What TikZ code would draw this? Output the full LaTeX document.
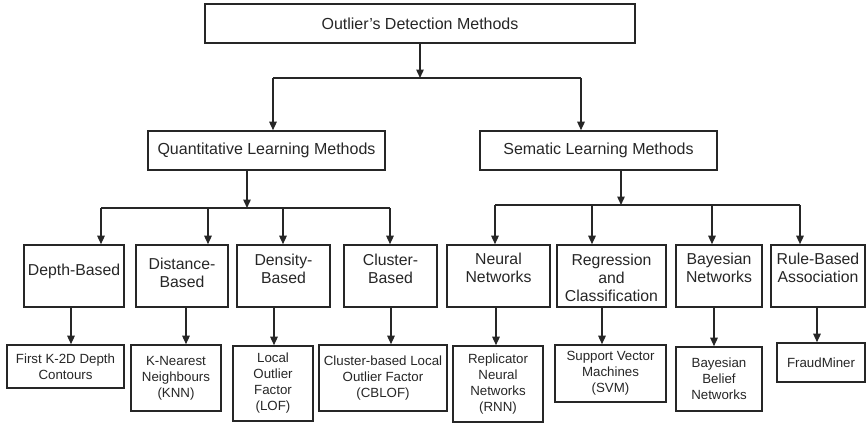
\documentclass[tikz,border=0pt]{standalone}
\usepackage{fontspec}
\setmainfont{Liberation Sans}
\usetikzlibrary{arrows.meta}
\definecolor{ink}{HTML}{262626}
\tikzset{
  box/.style={draw=ink, line width=1.6pt, rectangle, inner sep=0pt, align=center, text=ink},
  topbox/.style={box, font=\fontsize{16}{18}\selectfont},
  midbox/.style={box, minimum height=62pt},
  midtext/.style={inner sep=0pt, align=center, text=ink, font=\fontsize{15.8}{17.9}\selectfont},
  leafbox/.style={box, font=\fontsize{13.3}{16}\selectfont},
  wire/.style={draw=ink, line width=1.4pt},
  arr/.style={wire, -{Triangle[width=7.5pt,length=8.5pt]}},
}
\begin{document}
\begin{tikzpicture}[x=1pt,y=-1pt]
\useasboundingbox (0,0) rectangle (867,424);

% root and second level
\node[topbox, minimum width=430pt, minimum height=39pt] (root) at (420,23.5) {Outlier’s Detection Methods};
\node[topbox, minimum width=237pt, minimum height=39pt] (quant) at (266.5,150.5) {Quantitative Learning Methods};
\node[topbox, minimum width=237pt, minimum height=39pt] (sem) at (598.5,150.5) {Sematic Learning Methods};

% third level: frames
\node[midbox, minimum width=100pt] (depth) at (74,276) {};
\node[midbox, minimum width=92pt]  (dist)  at (182,276) {};
\node[midbox, minimum width=93pt]  (dens)  at (283.5,276) {};
\node[midbox, minimum width=93pt]  (clus)  at (390.5,276) {};
\node[midbox, minimum width=103pt] (neur)  at (498.5,276) {};
\node[midbox, minimum width=109pt] (regr)  at (611.5,276) {};
\node[midbox, minimum width=86pt]  (bayes) at (719,276) {};
\node[midbox, minimum width=94pt]  (rule)  at (818,276) {};

% third level: captions, set toward the top of each frame
\node[midtext] (depthT) at (74,271)    {Depth-Based};
\node[midtext] (distT)  at (182,273)   {Distance-\\Based};
\node[midtext] (densT)  at (283.5,268.5) {Density-\\Based};
\node[midtext] (clusT)  at (390.5,268.5) {Cluster-\\Based};
\node[midtext] (neurT)  at (498.5,268)   {Neural\\Networks};
\node[midtext] (regrT)  at (611.5,277.5) {Regression\\and\\Classification};
\node[midtext] (bayesT) at (719,268)     {Bayesian\\Networks};
\node[midtext] (ruleT)  at (818,268)     {Rule-Based\\Association};

% leaves
\node[leafbox, minimum width=117pt, minimum height=43pt] (firstk) at (65.5,366.5) {First K-2D Depth\\Contours};
\node[leafbox, minimum width=90pt,  minimum height=66pt] (knn)    at (176,378) {K-Nearest\\Neighbours\\(KNN)};
\node[leafbox, minimum width=80pt,  minimum height=75pt] (lof)    at (273,383.5) {Local\\Outlier\\Factor\\(LOF)};
\node[leafbox, minimum width=128pt, minimum height=66pt] (cblof)  at (383,378) {Cluster-based Local\\Outlier Factor\\(CBLOF)};
\node[leafbox, minimum width=90pt,  minimum height=76pt] (rnn)    at (498,384) {Replicator\\Neural\\Networks\\(RNN)};
\node[leafbox, minimum width=111pt, minimum height=57pt] (svm)    at (610.5,373.5) {Support Vector\\Machines\\(SVM)};
\node[leafbox, minimum width=86pt,  minimum height=64pt] (bbn)    at (719,379) {Bayesian\\Belief\\Networks};
\node[leafbox, minimum width=88pt,  minimum height=39pt] (fraud)  at (821,362.5) {FraudMiner};

% root to second level
\coordinate (rj) at (420,78);
\coordinate (rl) at (273,78);
\coordinate (rr) at (581,78);
\draw[arr] (root.south) -- (rj);
\draw[wire] (rl) -- (rr);
\draw[arr] (rl) -- (rl |- quant.north);
\draw[arr] (rr) -- (rr |- sem.north);

% quantitative branch
\coordinate (qj) at (247,208);
\coordinate (q1) at (101,208);
\coordinate (q2) at (208,208);
\coordinate (q3) at (283,208);
\coordinate (q4) at (390,208);
\draw[arr] (qj |- quant.south) -- (qj);
\draw[wire] (q1) -- (q4);
\draw[arr] (q1) -- (q1 |- depth.north);
\draw[arr] (q2) -- (q2 |- dist.north);
\draw[arr] (q3) -- (q3 |- dens.north);
\draw[arr] (q4) -- (q4 |- clus.north);

% semantic branch
\coordinate (sj) at (621,205);
\coordinate (s1) at (495,205);
\coordinate (s2) at (592,205);
\coordinate (s3) at (712,205);
\coordinate (s4) at (800,205);
\draw[arr] (sj |- sem.south) -- (sj);
\draw[wire] (s1) -- (s4);
\draw[arr] (s1) -- (s1 |- neur.north);
\draw[arr] (s2) -- (s2 |- regr.north);
\draw[arr] (s3) -- (s3 |- bayes.north);
\draw[arr] (s4) -- (s4 |- rule.north);

% third level to leaves
\coordinate (d1) at (71,307);
\coordinate (d2) at (186,307);
\coordinate (d3) at (274,307);
\coordinate (d4) at (391,307);
\coordinate (d5) at (496,307);
\coordinate (d6) at (602,307);
\coordinate (d7) at (714,307);
\coordinate (d8) at (817,307);
\draw[arr] (d1) -- (d1 |- firstk.north);
\draw[arr] (d2) -- (d2 |- knn.north);
\draw[arr] (d3) -- (d3 |- lof.north);
\draw[arr] (d4) -- (d4 |- cblof.north);
\draw[arr] (d5) -- (d5 |- rnn.north);
\draw[arr] (d6) -- (d6 |- svm.north);
\draw[arr] (d7) -- (d7 |- bbn.north);
\draw[arr] (d8) -- (d8 |- fraud.north);
\end{tikzpicture}
\end{document}
